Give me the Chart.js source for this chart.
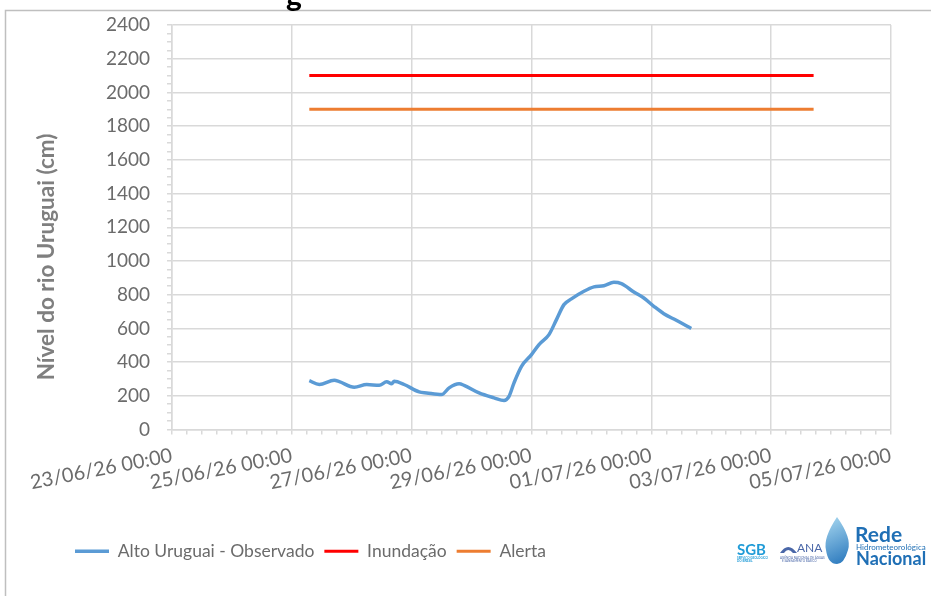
<!DOCTYPE html>
<html>
<head>
<meta charset="utf-8">
<script src="https://cdn.jsdelivr.net/npm/chart.js@4.4.1/dist/chart.umd.min.js"></script>
<style>
  html, body { margin: 0; padding: 0; background: #fff; }
  #wrap { width: 931px; height: 596px; position: relative; }
</style>
</head>
<body>
<div id="wrap"><canvas id="nivelChart" width="931" height="596"></canvas></div>
<script>
// hours counted from 23/06/26 00:00
var obsHours = [55, 59, 65, 67, 73, 78, 83, 86, 88, 89, 93, 99, 102, 108, 111, 115, 117, 123, 129, 133,
    135, 137, 140, 144, 147, 151, 154, 157, 160, 165, 169, 173, 177, 180, 185, 189, 193, 197, 202, 208];
var obsLevel = [290, 267, 292, 284, 251, 267, 262, 283, 271, 286, 267, 223, 217, 207, 247, 271, 262, 217, 188, 172,
    197, 277, 375, 444, 504, 563, 652, 741, 775, 820, 846, 853, 873, 865, 816, 780, 731, 687, 648, 599];

var limitHours = [55, 257];
var inundacao = [2100, 2100];
var alerta = [1900, 1900];

var seriesNames = ['Alto Uruguai - Observado', 'Inundação', 'Alerta'];
var xTickLabels = ['23/06/26 00:00', '25/06/26 00:00', '27/06/26 00:00', '29/06/26 00:00',
    '01/07/26 00:00', '03/07/26 00:00', '05/07/26 00:00'];
var yTitle = 'Nível do rio Uruguai (cm)';

var GRID = '#d9d9d9';
var TEXT = '#6b6b6b';

function toPoints(xs, ys) {
    return xs.map(function (x, i) { return { x: x, y: ys[i] }; });
}

// frame, cut title, axis title and partner logos
var decorPlugin = {
    id: 'decor',
    afterDraw: function (chart) {
        var ctx = chart.ctx;
        ctx.save();

        ctx.strokeStyle = '#bfbfbf';
        ctx.lineWidth = 1.5;
        ctx.beginPath();
        ctx.moveTo(5.5, 596);
        ctx.lineTo(5.5, 10.5);
        ctx.lineTo(931, 10.5);
        ctx.stroke();

        ctx.fillStyle = '#000';
        ctx.font = 'bold 30px Lato';
        ctx.textAlign = 'center';
        ctx.textBaseline = 'alphabetic';
        ctx.fillText('g', 294, 6);

        ctx.save();
        ctx.translate(47, 257);
        ctx.rotate(-Math.PI / 2);
        ctx.fillStyle = '#7f7f7f';
        ctx.font = 'bold 22.5px Lato';
        ctx.textBaseline = 'middle';
        ctx.fillText(yTitle, 0, 0);
        ctx.restore();

        // logos
        ctx.textAlign = 'left';
        ctx.textBaseline = 'alphabetic';
        ctx.fillStyle = '#1f9bd7';
        ctx.font = 'bold 15px Lato';
        ctx.fillText('SGB', 737, 555);
        ctx.font = 'bold 3px Lato';
        ctx.fillText('SERVIÇO GEOLÓGICO', 737, 559);
        ctx.fillText('DO BRASIL', 737, 562);

        ctx.fillStyle = '#4a67a8';
        ctx.beginPath();
        ctx.moveTo(780, 553);
        ctx.quadraticCurveTo(788, 541, 797, 553);
        ctx.lineTo(793, 553);
        ctx.quadraticCurveTo(788, 547, 784, 553);
        ctx.closePath();
        ctx.fill();
        ctx.font = '12px Lato';
        ctx.fillText('ANA', 797, 552);
        ctx.font = '3px Lato';
        ctx.fillText('AGÊNCIA NACIONAL DE ÁGUAS', 780, 559);
        ctx.fillText('E SANEAMENTO BÁSICO', 782, 562);

        var grad = ctx.createLinearGradient(826, 517, 848, 563);
        grad.addColorStop(0, '#a8d8f0');
        grad.addColorStop(1, '#2a78bd');
        ctx.fillStyle = grad;
        ctx.beginPath();
        ctx.moveTo(837, 517);
        ctx.quadraticCurveTo(852, 538, 848, 550);
        ctx.quadraticCurveTo(844, 564, 837, 564);
        ctx.quadraticCurveTo(828, 564, 826, 550);
        ctx.quadraticCurveTo(823, 538, 837, 517);
        ctx.fill();

        ctx.fillStyle = '#1f6fb5';
        ctx.font = 'bold 21px "Liberation Sans Narrow", Lato';
        ctx.fillText('Rede', 855, 542);
        ctx.font = '8px "Liberation Sans Narrow", Lato';
        ctx.fillText('Hidrometeorológica', 856, 550);
        ctx.font = 'bold 18px "Liberation Sans Narrow", Lato';
        ctx.fillText('Nacional', 856, 565);

        ctx.restore();
    }
};

var ctx = document.getElementById('nivelChart').getContext('2d');

var chart = new Chart(ctx, {
    type: 'line',
    data: {
        datasets: [{
            label: seriesNames[0],
            data: toPoints(obsHours, obsLevel),
            borderColor: '#5b9bd5',
            backgroundColor: '#5b9bd5',
            borderWidth: 3.5,
            pointRadius: 0,
            tension: 0.4,
            cubicInterpolationMode: 'monotone'
        }, {
            label: seriesNames[1],
            data: toPoints(limitHours, inundacao),
            borderColor: '#ff0000',
            backgroundColor: '#ff0000',
            borderWidth: 3,
            pointRadius: 0
        }, {
            label: seriesNames[2],
            data: toPoints(limitHours, alerta),
            borderColor: '#ed7d31',
            backgroundColor: '#ed7d31',
            borderWidth: 3,
            pointRadius: 0
        }]
    },
    options: {
        responsive: false,
        animation: false,
        layout: { padding: { left: 65, right: 40, top: 25, bottom: 26 } },
        plugins: {
            legend: {
                position: 'bottom',
                align: 'start',
                labels: {
                    usePointStyle: true,
                    pointStyle: 'line',
                    pointStyleWidth: 34,
                    padding: 10,
                    color: TEXT,
                    font: { family: 'Lato', size: 17.5 }
                }
            },
            tooltip: { enabled: false }
        },
        scales: {
            x: {
                type: 'linear',
                min: 0,
                max: 288,
                afterFit: function (scale) { scale.height = 103; },
                afterBuildTicks: function (scale) {
                    var t = [];
                    for (var v = 0; v <= 288; v += 6) t.push({ value: v });
                    scale.ticks = t;
                },
                ticks: {
                    autoSkip: false,
                    minRotation: 11,
                    maxRotation: 11,
                    padding: 9,
                    color: TEXT,
                    font: { family: 'Lato', size: 20 },
                    callback: function (v) { return v % 48 === 0 ? xTickLabels[v / 48] : ''; }
                },
                grid: {
                    color: function (c) { return c.tick && c.tick.value % 48 === 0 ? GRID : 'rgba(0,0,0,0)'; },
                    tickColor: GRID,
                    tickLength: 5,
                    lineWidth: 1.5
                },
                border: { color: GRID, width: 1.5 }
            },
            y: {
                min: 0,
                max: 2400,
                afterFit: function (scale) {
                    scale.width = 107;
                    // the tick padding would otherwise push the plot top down
                    scale.paddingTop = 0;
                    scale.paddingBottom = 0;
                },
                afterBuildTicks: function (scale) {
                    var t = [];
                    for (var v = 0; v <= 2400; v += 50) t.push({ value: v });
                    scale.ticks = t;
                },
                ticks: {
                    autoSkip: false,
                    padding: 17,
                    color: TEXT,
                    font: { family: 'Lato', size: 19 },
                    callback: function (v) { return v % 200 === 0 ? v : ''; }
                },
                grid: {
                    color: function (c) { return c.tick && c.tick.value % 200 === 0 ? GRID : 'rgba(0,0,0,0)'; },
                    tickColor: GRID,
                    tickLength: 5,
                    lineWidth: 1.5
                },
                border: { color: GRID, width: 1.5 }
            }
        }
    },
    plugins: [decorPlugin]
});
</script>
</body>
</html>
